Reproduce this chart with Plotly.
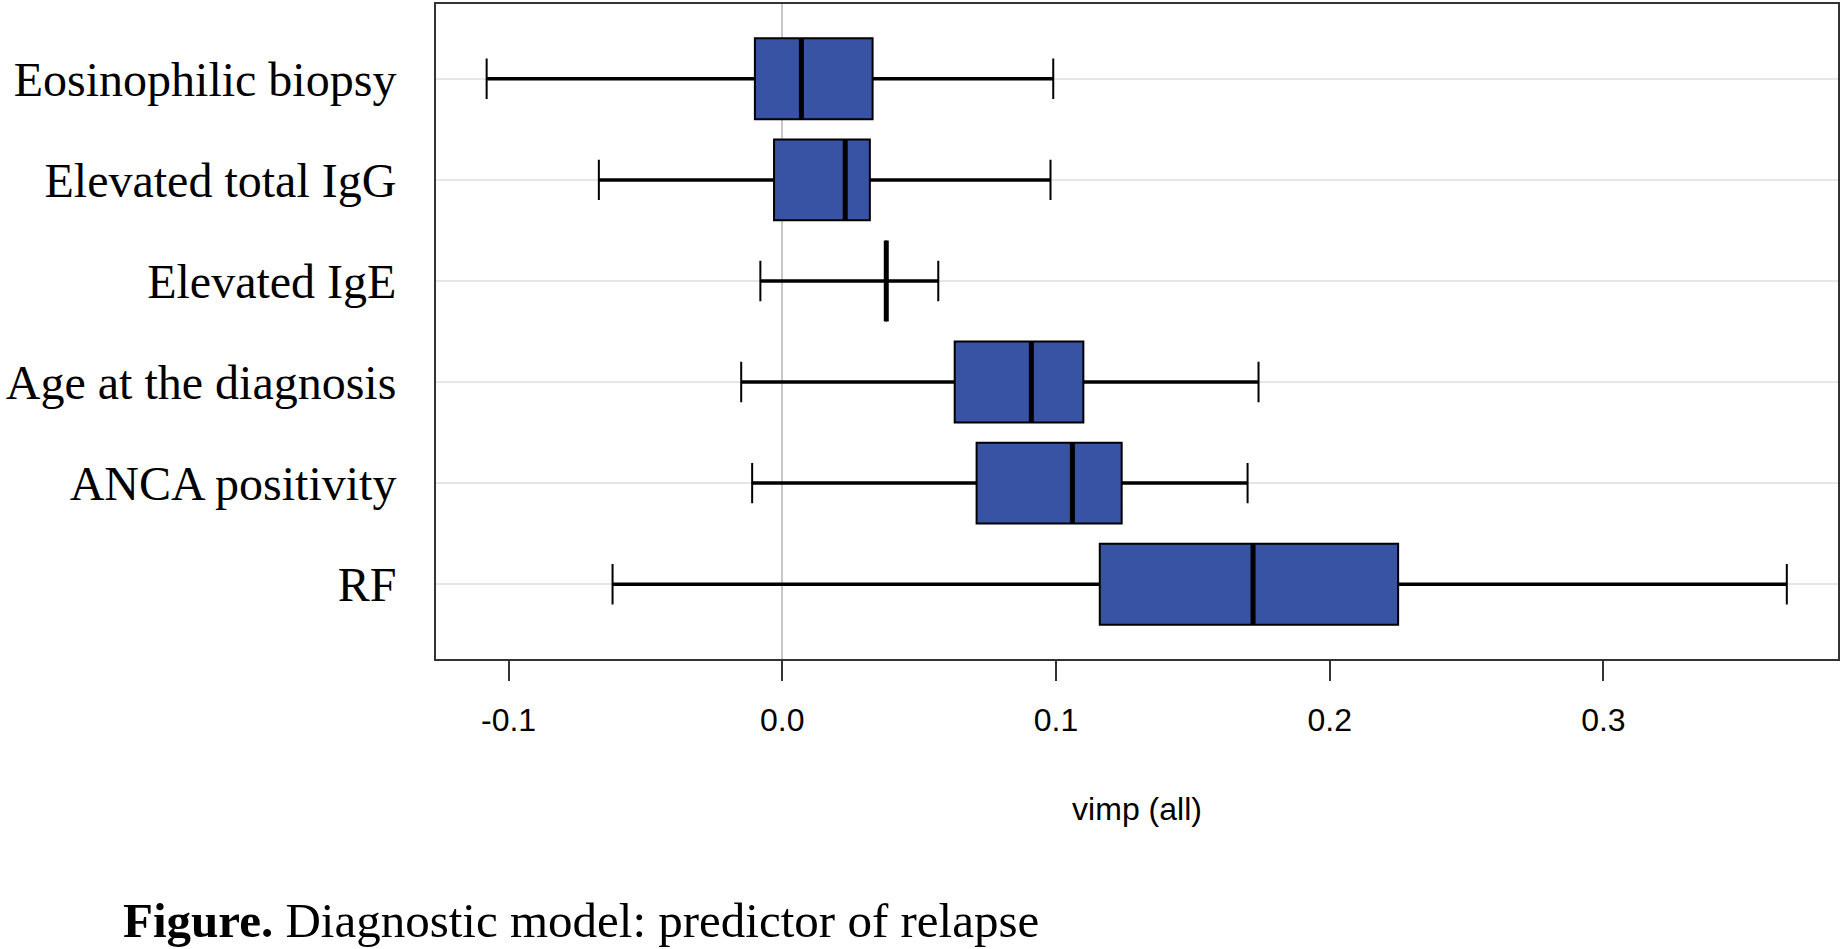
import plotly.graph_objects as go

# ---- data ----
labels = ["Eosinophilic biopsy", "Elevated total IgG", "Elevated IgE",
          "Age at the diagnosis", "ANCA positivity", "RF"]
positions = [6, 5, 4, 3, 2, 1]
lower_whisker = [-0.108, -0.067, -0.008, -0.015, -0.011, -0.062]
q1_vals = [-0.010, -0.003, 0.038, 0.063, 0.071, 0.116]
median_vals = [0.007, 0.023, 0.038, 0.091, 0.106, 0.172]
q3_vals = [0.033, 0.032, 0.038, 0.110, 0.124, 0.225]
upper_whisker = [0.099, 0.098, 0.057, 0.174, 0.170, 0.367]
x_ticks = [-0.1, 0.0, 0.1, 0.2, 0.3]
x_ticktext = ["-0.1", "0.0", "0.1", "0.2", "0.3"]

BOX_W = 0.8
FILL = "#3953a4"
SERIF = "Liberation Serif, Times New Roman, serif"
SANS = "Liberation Sans, Arial, sans-serif"

fig = go.Figure()

fig.add_trace(go.Box(
    y=positions, q1=q1_vals, median=median_vals, q3=q3_vals,
    lowerfence=lower_whisker, upperfence=upper_whisker,
    orientation="h", width=BOX_W, whiskerwidth=0.5,
    fillcolor=FILL, line=dict(color="black", width=2),
    boxpoints=False, showlegend=False, hoverinfo="skip",
))

# thicker whisker stems
sx, sy = [], []
for p, lo, a, b, hi in zip(positions, lower_whisker, q1_vals, q3_vals, upper_whisker):
    sx += [lo, a, None, b, hi, None]
    sy += [p, p, None, p, p, None]
fig.add_trace(go.Scatter(x=sx, y=sy, mode="lines",
                         line=dict(color="black", width=3.5),
                         showlegend=False, hoverinfo="skip"))

# thick median bars
mx, my = [], []
for p, m in zip(positions, median_vals):
    mx += [m, m, None]
    my += [p - BOX_W / 2, p + BOX_W / 2, None]
fig.add_trace(go.Scatter(x=mx, y=my, mode="lines",
                         line=dict(color="black", width=5),
                         showlegend=False, hoverinfo="skip"))

fig.update_layout(
    width=1842, height=949,
    margin=dict(l=436, r=3, t=2, b=290),
    paper_bgcolor="white", plot_bgcolor="white",
    showlegend=False,
    xaxis=dict(
        range=[-0.1265, 0.3857],
        tickvals=x_ticks, ticktext=x_ticktext,
        ticks="outside", ticklen=20, tickwidth=2, tickcolor="#333333",
        tickfont=dict(family=SANS, size=32, color="black"),
        ticklabelstandoff=12,
        showgrid=False,
        zeroline=True, zerolinecolor="#c8c8c8", zerolinewidth=2,
        showline=True, mirror=True, linecolor="#333333", linewidth=2,
        title=dict(text="vimp (all)", font=dict(family=SANS, size=32, color="black"),
                   standoff=60),
    ),
    yaxis=dict(
        range=[0.26, 6.74],
        tickvals=positions, ticktext=labels,
        ticks="", ticklabelstandoff=28,
        tickfont=dict(family=SERIF, size=48, color="black"),
        showgrid=True, gridcolor="#e6e6e6", gridwidth=2,
        zeroline=False,
        showline=True, mirror=True, linecolor="#333333", linewidth=2,
    ),
    annotations=[dict(
        text="<b>Figure.</b> Diagnostic model: predictor of relapse",
        xref="paper", yref="paper", x=-0.2247, y=-0.40,
        xanchor="left", yanchor="middle", showarrow=False,
        font=dict(family=SERIF, size=49, color="black"),
    )],
)

fig.write_html("out.html",
               config={"displayModeBar": False},
               post_script="document.body.style.margin='0';document.body.style.overflow='hidden';")
